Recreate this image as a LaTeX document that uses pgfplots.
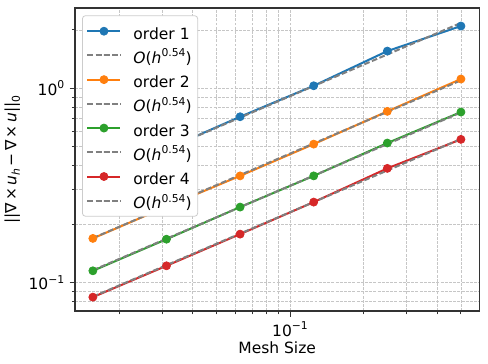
\documentclass[border=0pt]{standalone}
\usepackage{fontspec}
\setmainfont{DejaVu Sans}
\usepackage{pgfplots}
\pgfplotsset{compat=1.18}
\usetikzlibrary{calc}
\definecolor{C0}{HTML}{1F77B4}
\definecolor{C1}{HTML}{FF7F0E}
\definecolor{C2}{HTML}{2CA02C}
\definecolor{C3}{HTML}{D62728}
\definecolor{fitgray}{HTML}{808080}
\newcommand{\sps}[1]{\raisebox{0.42em}{\fontsize{10.8bp}{12bp}\selectfont #1}}
\newcommand{\sbs}[1]{\raisebox{-0.22em}{\fontsize{10.8bp}{12bp}\selectfont #1}}
\newcommand{\rate}{\textit{O}(\textit{h}\sps{0.54})}
\newcommand{\op}[1]{\hspace{0.15em}#1\hspace{0.15em}}

\begin{document}
\fontsize{15.5bp}{18bp}\selectfont
\begin{tikzpicture}
\begin{axis}[
    xmode=log, ymode=log,
    scale only axis,
    width=404bp, height=303bp,
    xmin=0.01321, xmax=0.5944,
    ymin=0.0711, ymax=2.594,
    xtick={0.1}, xticklabels={10\sps{−1}},
    ytick={0.1,1}, yticklabels={10\sps{−1},10\sps{0}},
    minor xtick={0.02,0.03,0.04,0.05,0.06,0.07,0.08,0.09,0.2,0.3,0.4,0.5},
    minor ytick={0.08,0.09,0.2,0.3,0.4,0.5,0.6,0.7,0.8,0.9,2},
    tick pos=left,
    tick align=outside,
    major tick length=5.4bp,
    minor tick length=3.1bp,
    every tick/.style={black!80, line width=1bp},
    axis line style={black!80, line width=1.5bp},
    grid=both,
    major grid style={gray!45, line width=0.8bp, dash pattern=on 2.9bp off 1.3bp},
    minor grid style={gray!45, line width=0.8bp, dash pattern=on 2.9bp off 1.3bp},
    xlabel={Mesh Size},
    xlabel style={yshift=5bp},
    ylabel={||∇\op{×}\textit{u}\sbs{\textit{h}}\op{−}∇\op{×}\textit{u}||\sbs{0}},
    ylabel style={yshift=-2bp},
    legend style={at={(0,1)}, anchor=north west, xshift=7bp, yshift=-7.3bp,
        draw=black!20, line width=0.8bp, rounded corners=3bp,
        fill=white, inner xsep=4bp, inner ysep=4.5bp, row sep=2.2bp, column sep=10bp,
        nodes={text height=17bp, text depth=1bp, inner sep=2bp}},
    legend cell align=left,
    legend image code/.code={\draw[mark repeat=2, mark phase=2, #1]
        plot coordinates {(0bp,0bp) (16.5bp,0bp) (33bp,0bp)};},
    every axis plot/.append style={line width=2bp},
]
\addplot[C0, mark=*, mark size=4bp, mark options={line width=0.8bp}] coordinates {
    (0.015625,0.328) (0.03125,0.486) (0.0625,0.714) (0.125,1.031) (0.25,1.556) (0.5,2.094)
};
\addlegendentry{order 1}
\addplot[fitgray, dash pattern=on 5.7bp off 2.5bp] coordinates {
    (0.015625,0.3343) (0.5,2.173)
};
\addlegendentry{\rate}
\addplot[C1, mark=*, mark size=4bp, mark options={line width=0.8bp}] coordinates {
    (0.015625,0.1686) (0.03125,0.2455) (0.0625,0.354) (0.125,0.516) (0.25,0.761) (0.5,1.117)
};
\addlegendentry{order 2}
\addplot[fitgray, dash pattern=on 5.7bp off 2.5bp] coordinates {
    (0.015625,0.1692) (0.5,1.0995)
};
\addlegendentry{\rate}
\addplot[C2, mark=*, mark size=4bp, mark options={line width=0.8bp}] coordinates {
    (0.015625,0.1148) (0.03125,0.167) (0.0625,0.2445) (0.125,0.354) (0.25,0.5226) (0.5,0.755)
};
\addlegendentry{order 3}
\addplot[fitgray, dash pattern=on 5.7bp off 2.5bp] coordinates {
    (0.015625,0.1156) (0.5,0.751)
};
\addlegendentry{\rate}
\addplot[C3, mark=*, mark size=4bp, mark options={line width=0.8bp}] coordinates {
    (0.015625,0.0840) (0.03125,0.1218) (0.0625,0.1774) (0.125,0.2594) (0.25,0.387) (0.5,0.546)
};
\addlegendentry{order 4}
\addplot[fitgray, dash pattern=on 5.7bp off 2.5bp] coordinates {
    (0.015625,0.08445) (0.5,0.5486)
};
\addlegendentry{\rate}
\coordinate (SW) at (rel axis cs:0,0);
\coordinate (NE) at (rel axis cs:1,1);
\end{axis}
\pgfresetboundingbox
\path[use as bounding box] ($(SW)+(-75bp,-52bp)$) rectangle ($(NE)+(8.7bp,8bp)$);
\end{tikzpicture}
\end{document}
